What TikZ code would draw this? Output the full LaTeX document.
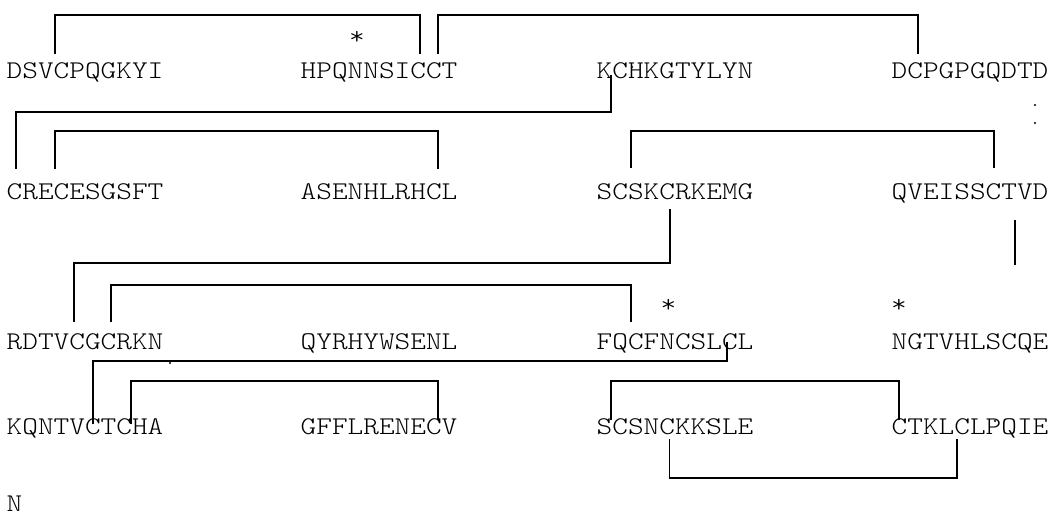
\documentclass[tikz,border=0pt]{standalone}
\usepackage{fontspec}
\newfontfamily\seqfont[Extension=.otf,FakeStretch=1.17]{lmmonolt10-regular}
\begin{document}
\begin{tikzpicture}[x=1pt,y=-1pt,
  seq/.style={font=\seqfont\fontsize{25.5pt}{26pt}\selectfont, anchor=base west, inner sep=0pt},
  star/.style={font=\seqfont\fontsize{25.5pt}{26pt}\selectfont, anchor=center, inner sep=0pt},
  bond/.style={draw=black, line width=1.8pt},
  dot/.style={fill=black, circle, inner sep=0pt, minimum size=2.2pt}]
\useasboundingbox (0,0) rectangle (1055,516);
% sequence rows
\node[seq] (r1a) at (6.5,79) {DSVCPQGKYI};
\node[seq] (r1b) at (300.5,79) {HPQNNSICCT};
\node[seq] (r1c) at (596.5,79) {KCHKGTYLYN};
\node[seq] (r1d) at (891.5,79) {DCPGPGQDTD};
\node[seq] (r2a) at (6.5,199) {CRECESGSFT};
\node[seq] (r2b) at (300.5,199) {ASENHLRHCL};
\node[seq] (r2c) at (596.5,199) {SCSKCRKEMG};
\node[seq] (r2d) at (891.5,199) {QVEISSCTVD};
\node[seq] (r3a) at (6.5,349) {RDTVCGCRKN};
\node[seq] (r3b) at (300.5,349) {QYRHYWSENL};
\node[seq] (r3c) at (596.5,349) {FQCFNCSLCL};
\node[seq] (r3d) at (891.5,349) {NGTVHLSCQE};
\node[seq] (r4a) at (6.5,434) {KQNTVCTCHA};
\node[seq] (r4b) at (300.5,434) {GFFLRENECV};
\node[seq] (r4c) at (596.5,434) {SCSNCKKSLE};
\node[seq] (r4d) at (891.5,434) {CTKLCLPQIE};
\node[seq] (nterm) at (6.5,511) {N};
% asterisks
\node[star] (s1) at (357,38) {*};
\node[star] (s2) at (668.5,306) {*};
\node[star] (s3) at (899,306) {*};
% dots
\node[dot] (d1) at (632,67) {};
\node[dot] (d2) at (1035,105) {};
\node[dot] (d3) at (1035,123) {};
\node[dot] (d4) at (170,363) {};
\node[dot] (d5) at (686,422) {};
\node[dot] (d6) at (707,422) {};
\node[dot] (d7) at (995,421) {};
% bond end points
\coordinate (A1) at (55,54);   \coordinate (A2) at (420,54);
\coordinate (B1) at (438,54);  \coordinate (B2) at (918,54);
\coordinate (C1) at (16,169);  \coordinate (C2) at (611,75);
\coordinate (D1) at (55,169);  \coordinate (D2) at (438,169);
\coordinate (E1) at (631,168); \coordinate (E2) at (994,168);
\coordinate (F1) at (670,209); \coordinate (F2) at (74,322);
\coordinate (G1) at (1015,220);\coordinate (G2) at (1015,265);
\coordinate (H1) at (111,322); \coordinate (H2) at (631,322);
\coordinate (I1) at (93,424);  \coordinate (I2) at (727,342);
\coordinate (J1) at (131,424); \coordinate (J2) at (438,420);
\coordinate (K1) at (611,420); \coordinate (K2) at (899,420);
\coordinate (L1) at (669.5,439); \coordinate (L2) at (957,439);
% bonds
\draw[bond] (A1) -- ++(0,-39) -| (A2);
\draw[bond] (B1) -- ++(0,-39) -| (B2);
\draw[bond] (C1) -- ++(0,-57) -| (C2);
\draw[bond] (D1) -- ++(0,-38) -| (D2);
\draw[bond] (E1) -- ++(0,-37) -| (E2);
\draw[bond] (F1) -- ++(0,54) -| (F2);
\draw[bond] (G1) -- (G2);
\draw[bond] (H1) -- ++(0,-37) -| (H2);
\draw[bond] (I1) -- ++(0,-63) -| (I2);
\draw[bond] (J1) -- ++(0,-43) -| (J2);
\draw[bond] (K1) -- ++(0,-39) -| (K2);
\draw[bond] (L1) -- ++(0,39) -| (L2);
\end{tikzpicture}
\end{document}
